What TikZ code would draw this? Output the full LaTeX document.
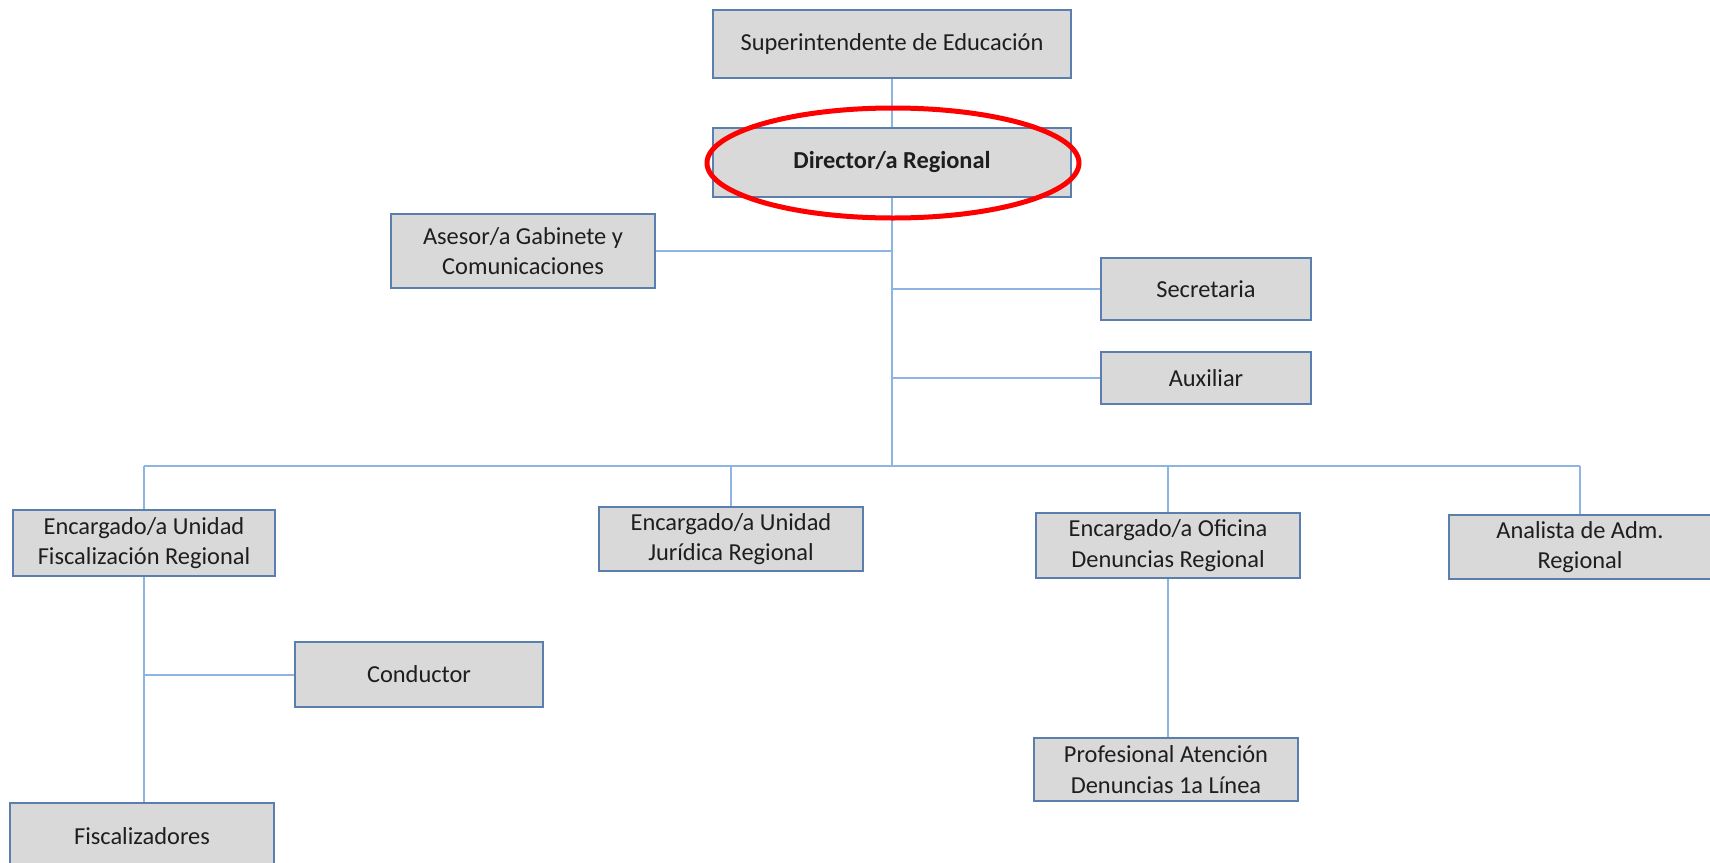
\documentclass[tikz,border=0pt]{standalone}
\usepackage{fontspec}
\setmainfont{Carlito}
\usepackage{tikz}
\definecolor{cajagris}{HTML}{D9D9D9}
\definecolor{bordeazul}{HTML}{5A7FAE}
\definecolor{lineaazul}{HTML}{8EB4E3}
\definecolor{texto}{HTML}{1E1E1E}
\tikzset{
  cargo/.style={draw=bordeazul, line width=1pt, fill=cajagris, text=texto, align=center,
    inner sep=0pt, font=\fontsize{12.2}{15.2}\selectfont},
  enlace/.style={draw=lineaazul, line width=1pt}
}

\begin{document}
\begin{tikzpicture}[x=0.5pt,y=-0.5pt]
\useasboundingbox (0,0) rectangle (1710,863);
\node[cargo, minimum width=179pt, minimum height=34pt] (sup) at (892,44) {Superintendente de Educación};
\node[cargo, minimum width=179pt, minimum height=34.5pt, font=\fontsize{12.2}{15.2}\selectfont\bfseries] (dir) at (892,162) {Director/a Regional};
\node[cargo, minimum width=132pt, minimum height=37pt] (ase) at (523,251) {Asesor/a Gabinete y\\Comunicaciones};
\node[cargo, minimum width=105pt, minimum height=31pt] (sec) at (1206,289) {Secretaria};
\node[cargo, minimum width=105pt, minimum height=26pt] (aux) at (1206,378) {Auxiliar};
\node[cargo, minimum width=131pt, minimum height=33pt] (fis) at (144,543) {Encargado/a Unidad\\Fiscalización Regional};
\node[cargo, minimum width=132pt, minimum height=32pt] (jur) at (731,539) {Encargado/a Unidad\\Jurídica Regional};
\node[cargo, minimum width=132pt, minimum height=32.5pt] (den) at (1168,545.5) {Encargado/a Oficina\\Denuncias Regional};
\node[cargo, minimum width=131pt, minimum height=32pt] (ana) at (1580,547) {Analista de Adm.\\Regional};
\node[cargo, minimum width=124pt, minimum height=32.5pt] (con) at (419,674.5) {Conductor};
\node[cargo, minimum width=132pt, minimum height=33pt] (fzd) at (142,836) {Fiscalizadores};
\node[cargo, minimum width=132pt, minimum height=31.5pt] (pro) at (1166,769.5) {Profesional Atención\\Denuncias 1a Línea};
\coordinate (bus) at (892,466);
\draw[enlace] (sup.south) -- (dir.north);
\draw[enlace] (dir.south) -- (bus);
\draw[enlace] (ase.east) -- (ase.east -| bus);
\draw[enlace] (sec.west -| bus) -- (sec.west);
\draw[enlace] (aux.west -| bus) -- (aux.west);
\draw[enlace] (bus -| fis.north) -- (bus -| ana.north);
\draw[enlace] (bus -| fis.north) -- (fis.north);
\draw[enlace] (bus -| jur.north) -- (jur.north);
\draw[enlace] (bus -| den.north) -- (den.north);
\draw[enlace] (bus -| ana.north) -- (ana.north);
\draw[enlace] (fis.south) -- (fzd.north -| fis.south);
\draw[enlace] (con.west -| fis.south) -- (con.west);
\draw[enlace] (den.south) -- (pro.north -| den.south);
\draw[red, line width=2.5pt] (893,163) ellipse [x radius=186, y radius=55];
\end{tikzpicture}
\end{document}
